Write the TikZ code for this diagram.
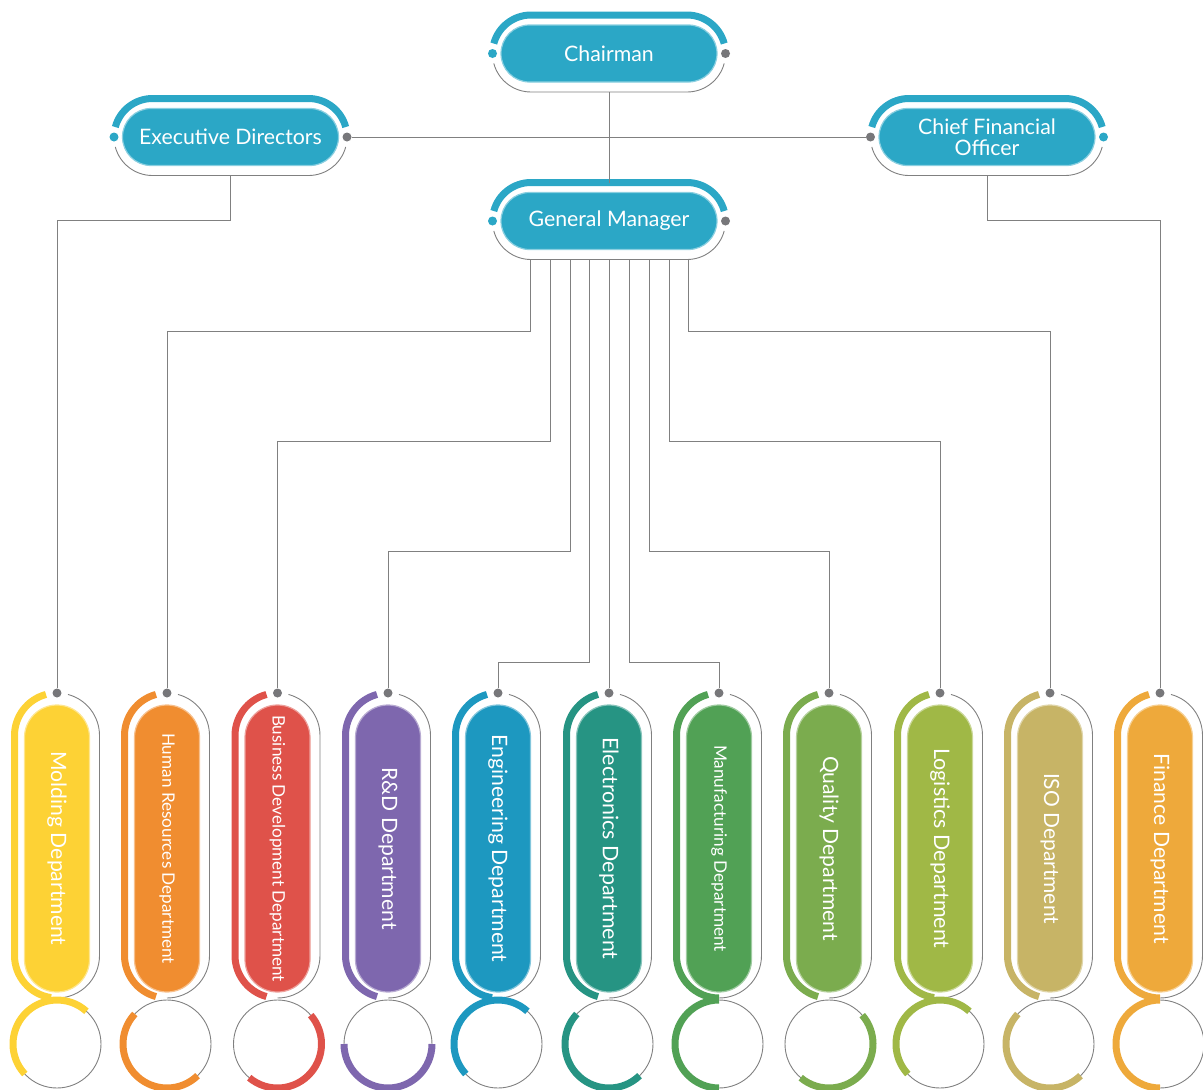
\documentclass[tikz,border=0pt]{standalone}
\usepackage{fontspec}
\usepackage{graphicx}
\setmainfont{Lato}
\usetikzlibrary{calc}
\definecolor{topblue}{HTML}{2BA7C6}
\definecolor{linegray}{HTML}{808080}
\definecolor{dotgray}{HTML}{77777A}
\definecolor{cMold}{HTML}{FDD235}
\definecolor{cHR}{HTML}{F08D30}
\definecolor{cBiz}{HTML}{DF524A}
\definecolor{cRD}{HTML}{7E67AE}
\definecolor{cEng}{HTML}{1D98C0}
\definecolor{cElec}{HTML}{269483}
\definecolor{cMan}{HTML}{51A155}
\definecolor{cQual}{HTML}{7BAC4E}
\definecolor{cLog}{HTML}{A0B846}
\definecolor{cISO}{HTML}{C7B466}
\definecolor{cFin}{HTML}{EEA93B}
\tikzset{
  conn/.style={draw=linegray, line width=1pt},
  thickarc/.style={line width=7pt, line cap=butt},
  thinarc/.style={draw=linegray, line width=0.9pt},
  dotnode/.style={circle, inner sep=0pt, minimum size=9pt},
  toppill/.style={fill=topblue, draw=topblue!55!white, line width=1.2pt, rounded corners=28.5pt,
    minimum width=216pt, minimum height=57pt, text=white, font=\fontsize{21.3}{21}\selectfont,
    align=center, inner sep=0pt},
  deptpill/.style={line width=1.2pt, rounded corners=32.5pt, minimum width=65pt, minimum height=287pt, inner sep=0pt},
  depttext/.style={text=white, rotate=-90, inner sep=0pt},
}
% #1 name, #2 cx, #3 cy, #4 text, #5 left dot colour, #6 right dot colour
\newcommand\topunit[6]{%
  \node[toppill] (#1) at (#2,#3) {#4};
  \draw[topblue, thickarc] ($(#2,#3)+(-78,0)+(165:38.5)$) arc (165:90:38.5) -- ++(156,0) arc (90:15:38.5);
  \draw[thinarc] ($(#2,#3)+(78,0)+(-15:38.5)$) arc (-15:-90:38.5) -- ++(-156,0) arc (-90:-165:38.5);
  \node[dotnode, fill=#5] (#1-l) at ($(#2,#3)+(-116.5,0)$) {};
  \node[dotnode, fill=#6] (#1-r) at ($(#2,#3)+(116.5,0)$) {};
  \coordinate (#1-top) at ($(#2,#3)+(0,38.5)$);
  \coordinate (#1-bot) at ($(#2,#3)+(0,-38.5)$);
}
% #1 name, #2 cx, #3 colour, #4 text, #5 text length, #6 pill arc end, #7 circle arc start, #8 circle arc end
\newcommand\deptunit[8]{%
  \node[deptpill, fill=#3, draw=#3!55!white] (#1) at (#2,-848.5) {};
  \node[depttext] (#1-t) at (#1.center) {\resizebox{#5pt}{!}{#4}};
  \draw[#3, thickarc] ($(#2,-735.5)+(105:42.5)$) arc (105:180:42.5) -- ++(0,-220) arc (180:#6:42.5);
  \draw[thinarc] ($(#2,-735.5)+(75:42.5)$) arc (75:0:42.5) -- ++(0,-220) arc (0:-90:42.5);
  \draw[thinarc] (#2,-1044) circle (44);
  \draw[#3, thickarc] ($(#2,-1044)+(#7:44)$) arc (#7:#8:44);
  \node[dotnode, fill=dotgray] (#1-dot) at (#2,-693) {};
}
\begin{document}
\begin{tikzpicture}[x=1pt, y=1pt]
\useasboundingbox (0,0) rectangle (1203,-1090);

\topunit{chair}{609}{-53.5}{Chairman}{topblue}{dotgray}
\topunit{ed}{230.5}{-137}{Executive Directors}{topblue}{dotgray}
\topunit{cfo}{987}{-137}{Chief Financial\\Officer}{dotgray}{topblue}
\topunit{gm}{609}{-221}{General Manager}{topblue}{dotgray}

\deptunit{d1}{57}{cMold}{Molding Department}{194}{262}{48}{223}
\deptunit{d2}{167}{cHR}{Human Resources Department}{231}{255}{137}{314}
\deptunit{d3}{277.5}{cBiz}{Business Development Department}{267}{255}{-130}{41}
\deptunit{d4}{388}{cRD}{R\&D Department}{162}{255}{180}{360}
\deptunit{d5}{498}{cEng}{Engineering Department}{228}{262}{48}{223}
\deptunit{d6}{609}{cElec}{Electronics Department}{222}{255}{137}{314}
\deptunit{d7}{719}{cMan}{Manufacturing Department}{207}{270}{90}{270}
\deptunit{d8}{829}{cQual}{Quality Department}{185}{255}{-130}{41}
\deptunit{d9}{940}{cLog}{Logistics Department}{200}{262}{48}{223}
\deptunit{d10}{1050}{cISO}{ISO Department}{151}{255}{137}{314}
\deptunit{d11}{1160}{cFin}{Finance Department}{190}{270}{90}{270}

\coordinate (g1) at (530,-259.5);
\coordinate (g2) at (550,-259.5);
\coordinate (g3) at (570,-259.5);
\coordinate (g4) at (589.5,-259.5);
\coordinate (g5) at (609,-259.5);
\coordinate (g6) at (629,-259.5);
\coordinate (g7) at (649,-259.5);
\coordinate (g8) at (669,-259.5);
\coordinate (g9) at (688,-259.5);

\draw[conn] (chair-bot) -- (gm-top);
\draw[conn] (ed-r) -- (cfo-l);
\draw[conn] (ed-bot) -- ++(0,-45) -| (d1-dot);
\draw[conn] (cfo-bot) -- ++(0,-45) -| (d11-dot);
\draw[conn] (g1) -- ++(0,-71.5) -| (d2-dot);
\draw[conn] (g2) -- ++(0,-181.5) -| (d3-dot);
\draw[conn] (g3) -- ++(0,-291.5) -| (d4-dot);
\draw[conn] (g4) -- ++(0,-402.5) -| (d5-dot);
\draw[conn] (g5) -- (d6-dot);
\draw[conn] (g6) -- ++(0,-402.5) -| (d7-dot);
\draw[conn] (g7) -- ++(0,-291.5) -| (d8-dot);
\draw[conn] (g8) -- ++(0,-181.5) -| (d9-dot);
\draw[conn] (g9) -- ++(0,-71.5) -| (d10-dot);
\end{tikzpicture}
\end{document}
